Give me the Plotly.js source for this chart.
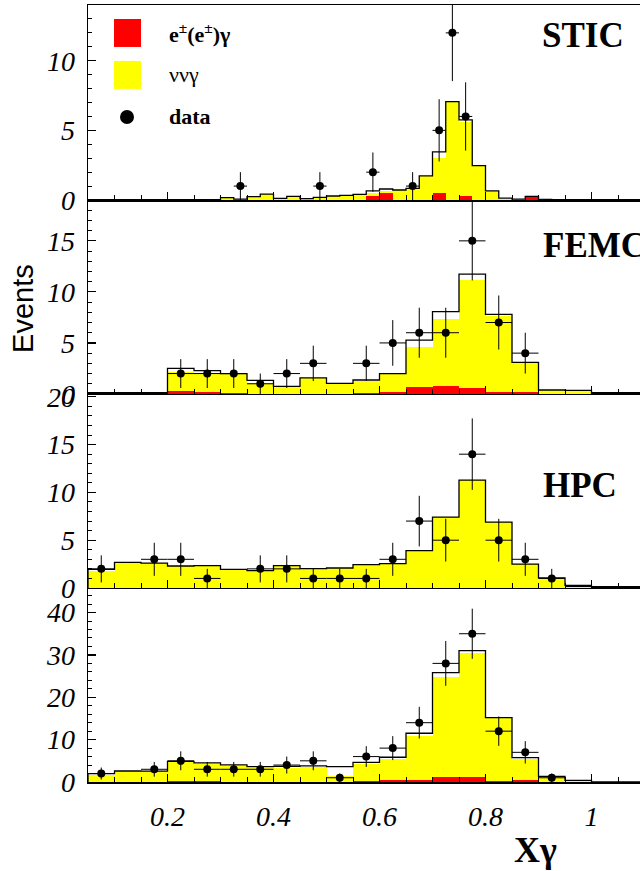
<!DOCTYPE html>
<html><head><meta charset="utf-8">
<script src="https://cdn.plot.ly/plotly-3.0.1.min.js"></script>
<style>html,body{margin:0;padding:0;background:#fff;overflow:hidden}</style>
</head><body><div id="chart" style="width:640px;height:871px"></div>
<script>
// ---- bin centres (0.05 wide bins for FEMC / HPC / ALL, 0.025 wide for STIC)
const binCenters = [0.075,0.125,0.175,0.225,0.275,0.325,0.375,0.425,0.475,0.525,0.575,0.625,0.675,0.725,0.775,0.825,0.875,0.925,0.975,1.025,1.075];
const binWidth = 0.05;
const sticCenters = [0.3125,0.3375,0.3625,0.3875,0.4125,0.4375,0.4625,0.4875,0.5125,0.5375,0.5625,0.5875,0.6125,0.6375,0.6625,0.6875,0.7125,0.7375,0.7625,0.7875,0.8125,0.8375,0.8625,0.8875,0.9125];
const sticWidth = 0.025;

// ---- STIC
const sticRed   = [0,0,0,0,0,0,0,0,0,0,0,0.29,0.53,0,0,0,0.53,0,0.29,0,0,0,0,0.26,0];
const sticNunu  = [0.12,0.05,0.22,0.41,0.10,0.24,0.08,0.17,0.27,0.32,0.39,0.19,0.14,0.70,0.82,1.71,2.47,7.02,5.30,2.44,0.63,0.10,0.05,0,0.03];
const sticTotal = [0.17,0.07,0.24,0.43,0.12,0.26,0.10,0.19,0.29,0.34,0.41,0.65,0.79,0.72,0.84,1.73,3.45,7.07,5.76,2.47,0.65,0.14,0.07,0.26,0.05];
const sticDataX = [0.3375,0.4875,0.5875,0.6625,0.7125,0.7375,0.7625];
const sticData  = [1,1,2,1,5,12,6];

// ---- FEMC
const femcRed   = [0,0,0,0.33,0.23,0.05,0,0,0,0,0.05,0.23,0.72,0.82,0.62,0.2,0.2,0.03,0.03,0,0];
const femcNunu  = [0,0,0,1.86,1.86,1.87,1.1,0.75,1.55,1.04,1.25,1.76,3.91,6.52,10.53,7.43,2.87,0.32,0.30,0,0];
const femcTotal = [0,0,0,2.51,2.28,1.99,1.34,0.75,1.57,1.04,1.37,1.99,5.28,8.06,11.74,7.8,3.1,0.39,0.35,0,0];
const femcDataX = [0.225,0.275,0.325,0.375,0.425,0.475,0.575,0.625,0.675,0.725,0.775,0.825,0.875];
const femcData  = [2,2,2,1,2,3,3,5,6,6,15,7,4];

// ---- HPC
const hpcRed   = [0,0,0,0,0,0,0,0,0,0,0,0,0,0,0,0,0,0,0,0,0];
const hpcNunu  = [1.78,2.64,2.57,2.26,2.29,1.91,1.77,2.29,1.98,2.05,2.40,2.50,3.86,7.38,11.25,6.86,2.46,1.01,0.15,0.02,0.02];
const hpcTotal = [1.95,2.68,2.61,2.3,2.33,1.95,1.81,2.33,2.02,2.09,2.44,2.54,3.9,7.42,11.29,6.9,2.5,1.05,0.28,0.05,0.05];
const hpcDataX = [0.075,0.175,0.225,0.275,0.375,0.425,0.475,0.525,0.575,0.625,0.675,0.725,0.775,0.825,0.875,0.925];
const hpcData  = [2,3,3,1,2,2,1,1,1,3,7,5,14,5,3,1];

// ---- ALL
const allRed   = [0,0,0,0.3,0.2,0.1,0.1,0,0,0,0.2,0.55,0.55,1.1,1.1,0.2,0.4,0,0,0,0];
const allNunu  = [1.73,2.55,2.5,4.35,4.06,3.69,3.3,3.3,3.55,1.3,4.14,4.89,10.41,23.6,29.3,14.9,5.04,1.0,0.2,0,0];
const allTotal = [1.97,2.6,2.55,4.89,4.5,4.02,3.63,3.7,3.79,3.63,4.65,5.84,11.51,25.8,31.0,15.2,5.76,1.34,0.4,0,0];
const allDataX = [0.075,0.175,0.225,0.275,0.325,0.375,0.425,0.475,0.525,0.575,0.625,0.675,0.725,0.775,0.825,0.875,0.925];
const allData  = [2,3,5,3,3,3,4,5,1,6,8,14,28,35,12,7,1];

const legendLabels = ['e<sup>±</sup>(e<sup>±</sup>)γ', 'ννγ', 'data'];
const panelLabels = ['STIC','FEMC','HPC'];

// ---- build traces
function outline(centers, w, vals){
  const xs=[centers[0]-w/2], ys=[0];
  for(let i=0;i<centers.length;i++){ xs.push(centers[i]-w/2); ys.push(vals[i]); }
  xs.push(centers[centers.length-1]+w/2); ys.push(vals[vals.length-1]);
  xs.push(centers[centers.length-1]+w/2); ys.push(0);
  return {x:xs,y:ys};
}
const traces=[];
function panel(ax, ay, centers, w, red, nunu, total, dx, dv){
  traces.push({type:'bar', x:centers, y:red, width:w, xaxis:ax, yaxis:ay,
    marker:{color:'#ff0000', line:{width:0}}, showlegend:false, hoverinfo:'skip'});
  traces.push({type:'bar', x:centers, y:nunu, width:w, xaxis:ax, yaxis:ay,
    marker:{color:'#ffff00', line:{width:0}}, showlegend:false, hoverinfo:'skip'});
  const o=outline(centers,w,total);
  traces.push({type:'scatter', mode:'lines', x:o.x, y:o.y, xaxis:ax, yaxis:ay,
    line:{shape:'hv', color:'#000', width:1.3}, showlegend:false, hoverinfo:'skip'});
  traces.push({type:'scatter', mode:'markers', x:dx, y:dv, xaxis:ax, yaxis:ay, cliponaxis:false,
    marker:{color:'#000', size:8},
    error_y:{type:'data', array:dv.map(Math.sqrt), color:'#000', thickness:1, width:0},
    error_x:{type:'constant', value:w/2, color:'#000', thickness:1, width:0},
    showlegend:false, hoverinfo:'skip'});
}
panel('x4','y4', sticCenters, sticWidth, sticRed, sticNunu, sticTotal, sticDataX, sticData);
panel('x3','y3', binCenters, binWidth, femcRed, femcNunu, femcTotal, femcDataX, femcData);
panel('x2','y2', binCenters, binWidth, hpcRed, hpcNunu, hpcTotal, hpcDataX, hpcData);
panel('x','y', binCenters, binWidth, allRed, allNunu, allTotal, allDataX, allData);

const tickFont = {family:'Liberation Serif, Times New Roman, serif', size:28, color:'#000', style:'italic'};
function xax(anchor, labels){
  return {anchor:anchor, domain:[0,1], range:[0.05,1.0915], showgrid:false, zeroline:false,
    showline:true, linecolor:'#000', linewidth:1.5, mirror:true,
    ticks:'inside', tick0:0, dtick:0.2, ticklen:8, tickwidth:1.2, tickcolor:'#000',
    minor:{dtick:0.05, ticks:'inside', ticklen:5, tickwidth:1, tickcolor:'#000'},
    showticklabels:labels, tickfont:tickFont, ticklabelstandoff:9, matches: anchor==='y'?undefined:'x'};
}
function yax(dom, rng, dt, mdt){
  return {domain:dom, range:rng, showgrid:false, zeroline:false, showline:true, linecolor:'#000', linewidth:1.5,
    ticks:'inside', dtick:dt, ticklen:8, tickwidth:1.2, tickcolor:'#000',
    minor:{dtick:mdt, ticks:'inside', ticklen:4, tickwidth:1, tickcolor:'#000'},
    tickfont:tickFont, ticklabelstandoff:6};
}
const serif='Liberation Serif, Times New Roman, serif';
const layout = {
  width:640, height:871, margin:{l:88,r:0,t:5,b:89},
  paper_bgcolor:'#fff', plot_bgcolor:'#fff', barmode:'stack', bargap:0, showlegend:false,
  xaxis:xax('y',true), xaxis2:xax('y2',false), xaxis3:xax('y3',false), xaxis4:xax('y4',false),
  yaxis:yax([0,0.2497],[0,45.8],10,2),
  yaxis2:yax([0.2497,0.4994],[0,20.3],5,1),
  yaxis3:yax([0.4994,0.749],[0,19],5,1),
  yaxis4:yax([0.749,1],[0,14],5,1),
  shapes:[
    {type:'rect', xref:'paper', yref:'paper', x0:0.0471, x1:0.0960, y0:0.946, y1:0.982, fillcolor:'#ff0000', line:{width:0}},
    {type:'rect', xref:'paper', yref:'paper', x0:0.0471, x1:0.0960, y0:0.892, y1:0.928, fillcolor:'#ffff00', line:{width:0}},
    {type:'circle', xref:'paper', yref:'paper', x0:0.0580, x1:0.0833, y0:0.8468, y1:0.8649, fillcolor:'#000', line:{width:0}}
  ],
  annotations:[
    {xref:'paper', yref:'paper', x:0.1431, y:0.964, xanchor:'left', yanchor:'middle', showarrow:false,
      text:'<b>'+legendLabels[0]+'</b>', font:{family:serif, size:22, color:'#000'}},
    {xref:'paper', yref:'paper', x:0.1431, y:0.910, xanchor:'left', yanchor:'middle', showarrow:false,
      text:legendLabels[1], font:{family:serif, size:22, color:'#000'}},
    {xref:'paper', yref:'paper', x:0.1431, y:0.856, xanchor:'left', yanchor:'middle', showarrow:false,
      text:'<b>'+legendLabels[2]+'</b>', font:{family:serif, size:22, color:'#000'}},
    {xref:'paper', yref:'paper', x:0.8188, y:0.961, xanchor:'left', yanchor:'middle', showarrow:false,
      text:'<b>'+panelLabels[0]+'</b>', font:{family:serif, size:35, color:'#000'}},
    {xref:'paper', yref:'paper', x:0.8207, y:0.691, xanchor:'left', yanchor:'middle', showarrow:false,
      text:'<b>'+panelLabels[1]+'</b>', font:{family:serif, size:35, color:'#000'}},
    {xref:'paper', yref:'paper', x:0.8207, y:0.382, xanchor:'left', yanchor:'middle', showarrow:false,
      text:'<b>'+panelLabels[2]+'</b>', font:{family:serif, size:35, color:'#000'}},
    {xref:'paper', yref:'paper', x:-0.118, y:0.61, xanchor:'center', yanchor:'middle', showarrow:false, textangle:-90,
      text:'Events', font:{family:'Liberation Sans, Arial, sans-serif', size:29, color:'#000'}},
    {xref:'paper', yref:'paper', x:0.81, y:-0.0875, xanchor:'center', yanchor:'middle', showarrow:false,
      text:'<b>Xγ</b>', font:{family:serif, size:36, color:'#000'}}
  ]
};
Plotly.newPlot('chart', traces, layout, {staticPlot:true, displayModeBar:false});
</script></body></html>
